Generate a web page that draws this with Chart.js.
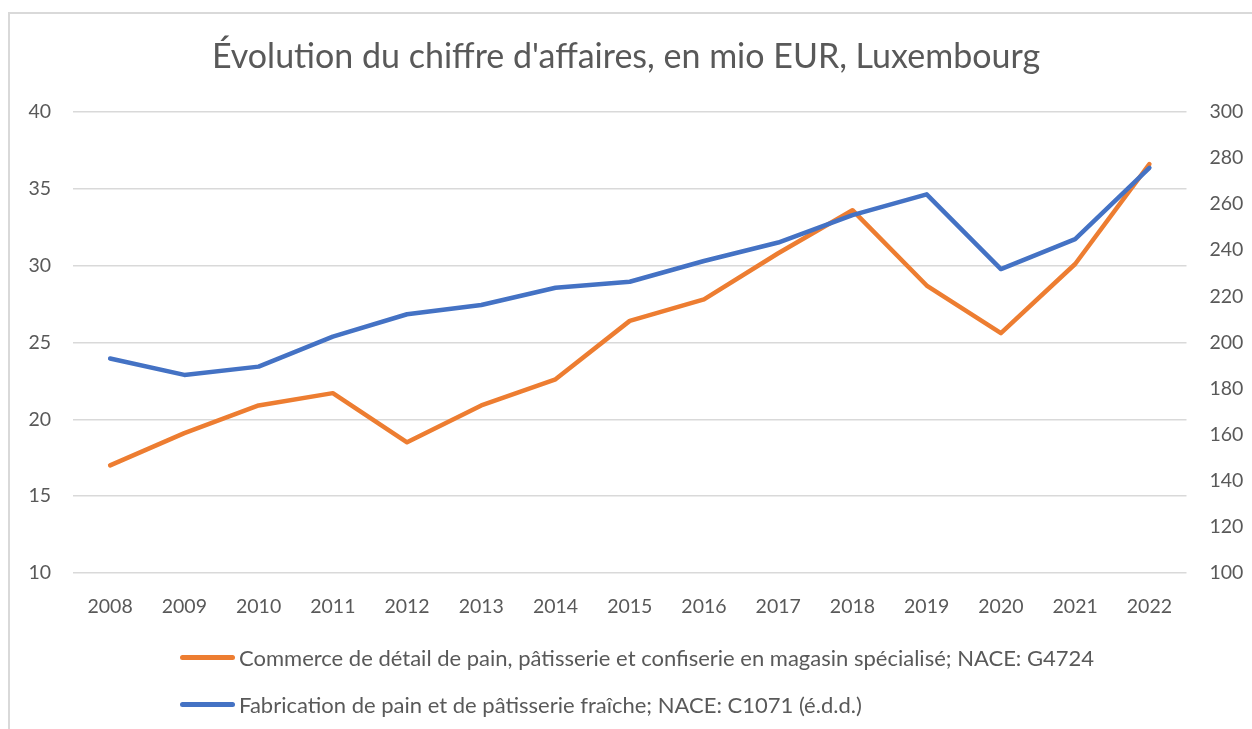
<!DOCTYPE html>
<html>
<head>
<meta charset="utf-8">
<script src="https://cdn.jsdelivr.net/npm/chart.js@4"></script>
<style>
	html, body { margin: 0; padding: 0; width: 1252px; height: 729px; overflow: hidden; background: #fff; }
	#frame { position: absolute; left: 8px; top: 12px; width: 1400px; height: 900px; border: 2px solid #d9d9d9; box-sizing: border-box; }
	#wrap { position: absolute; left: 0; top: 0; width: 1252px; height: 729px; }
	#legend { position: absolute; left: 180px; top: 634px; font-family: Lato, sans-serif; font-size: 22px; color: #595959; }
	.item { height: 47px; display: flex; align-items: center; margin-top: 0; }
	.swatch { display: inline-block; width: 55px; height: 5px; border-radius: 3px; margin-right: 4px; }
</style>
</head>
<body>
<div id="frame"></div>
<div id="wrap"><canvas id="myChart" width="1252" height="729"></canvas></div>
<div id="legend"></div>
<script>
var years = ['2008', '2009', '2010', '2011', '2012', '2013', '2014', '2015', '2016', '2017', '2018', '2019', '2020', '2021', '2022'];
var commerce = [17.0, 19.1, 20.9, 21.7, 18.5, 20.9, 22.6, 26.4, 27.8, 30.8, 33.6, 28.7, 25.6, 30.1, 36.6];
var fabrication = [193.0, 185.9, 189.5, 202.5, 212.2, 216.2, 223.7, 226.3, 235.3, 243.3, 255.2, 264.2, 231.8, 244.8, 275.7];
var label_commerce = 'Commerce de détail de pain, pâtisserie et confiserie en magasin spécialisé; NACE: G4724';
var label_fabrication = 'Fabrication de pain et de pâtisserie fraîche; NACE: C1071 (é.d.d.)';
var title = "Évolution du chiffre d'affaires, en mio EUR, Luxembourg";

var orange = '#ED7D31';
var blue = '#4472C4';
var grey = '#595959';
var font = 'Lato, sans-serif';

/* legend in html, rows aligned left like the original */
var legend = document.getElementById('legend');
[[label_commerce, orange], [label_fabrication, blue]].forEach(function (e) {
	var row = document.createElement('div');
	row.className = 'item';
	row.innerHTML = '<span class="swatch" style="background:' + e[1] + '"></span><span>' + e[0] + '</span>';
	legend.appendChild(row);
});

var ctx = document.getElementById('myChart').getContext('2d');
var graph = new Chart(ctx, {
	type: 'line',
	data: {
		labels: years,
		datasets: [{
			label: label_commerce,
			data: commerce,
			borderColor: orange,
			backgroundColor: orange,
			borderWidth: 4.5,
			pointRadius: 0,
			borderCapStyle: 'round',
			borderJoinStyle: 'round',
			tension: 0,
			order: 2,
			yAxisID: 'left'
		}, {
			label: label_fabrication,
			data: fabrication,
			borderColor: blue,
			backgroundColor: blue,
			borderWidth: 4.5,
			pointRadius: 0,
			borderCapStyle: 'round',
			borderJoinStyle: 'round',
			tension: 0,
			order: 1,
			yAxisID: 'right'
		}]
	},
	options: {
		responsive: false,
		animation: false,
		layout: { padding: { left: 0, right: 0, top: 0, bottom: 106 } },
		plugins: {
			legend: { display: false },
			tooltip: { enabled: false },
			title: {
				display: true,
				text: title,
				color: grey,
				font: { family: font, size: 34, weight: 'normal' },
				padding: { top: 37, bottom: 34 }
			}
		},
		scales: {
			x: {
				offset: true,
				grid: { display: false },
				border: { display: false },
				ticks: { color: grey, font: { family: font, size: 19.5 }, padding: 14, maxRotation: 0 },
				afterFit: function (axis) { axis.height = 50; }
			},
			left: {
				type: 'linear',
				position: 'left',
				min: 10,
				max: 40,
				ticks: { stepSize: 5, color: grey, font: { family: font, size: 19.5 }, padding: 22 },
				grid: { color: '#d9d9d9', lineWidth: 1.5, drawTicks: false },
				border: { display: false },
				afterFit: function (axis) { axis.width = 73; }
			},
			right: {
				type: 'linear',
				position: 'right',
				min: 100,
				max: 300,
				ticks: { stepSize: 20, color: grey, font: { family: font, size: 19.5 }, padding: 23 },
				grid: { display: false, drawTicks: false },
				border: { display: false },
				afterFit: function (axis) { axis.width = 65.5; }
			}
		}
	}
});
</script>
</body>
</html>
